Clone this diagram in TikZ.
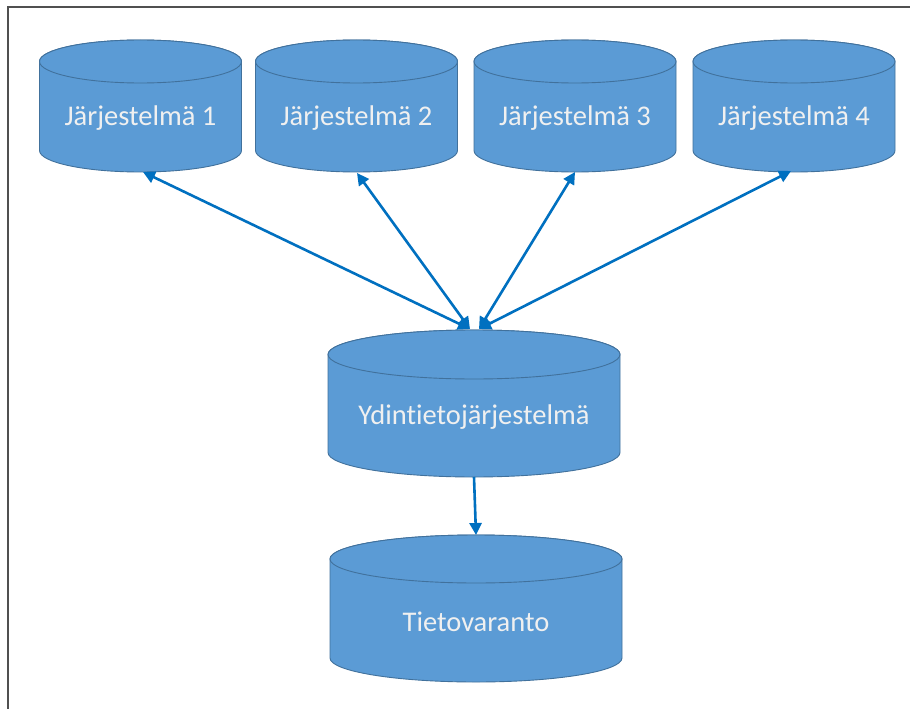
\documentclass[tikz,border=0pt]{standalone}
\usepackage{fontspec}
\setmainfont{Carlito}[Ligatures=NoCommon]
\usetikzlibrary{arrows.meta}

\definecolor{cylfill}{HTML}{5B9BD5}
\definecolor{cylline}{HTML}{41719C}
\definecolor{linkblue}{HTML}{0070C0}
\definecolor{framegray}{HTML}{505050}

% \dbcyl{name}{cx}{top-centre y}{bottom-centre y}{rx}{ry}{label}
% coordinates are in pixels, y growing downwards
\newcommand{\dbcyl}[7]{%
  \path[cylbody] (#2-#5,#3) -- (#2-#5,#4)
    arc[start angle=180,end angle=360,x radius=#5pt,y radius=#6pt]
    -- (#2+#5,#3)
    arc[start angle=0,end angle=180,x radius=#5pt,y radius=#6pt] -- cycle;
  \path[cylbody] (#2,#3) ellipse[x radius=#5pt,y radius=#6pt];
  \node[cyltext] (#1) at (#2,{(#3+#4)/2+0.55*#6}) {#7};
  \coordinate (#1-top) at (#2,#3-#6);
  \coordinate (#1-bot) at (#2,#4+#6);
}

\tikzset{
  cylbody/.style={fill=cylfill,draw=cylline,line width=0.9pt},
  cyltext/.style={text=white!94!black,font=\fontsize{28.5}{32}\selectfont,inner sep=0pt},
  link/.style={draw=linkblue,line width=2.6pt,
    {Triangle[length=12pt,width=12pt]}-{Triangle[length=12pt,width=12pt]}},
  onelink/.style={draw=linkblue,line width=2.6pt,-{Triangle[length=12pt,width=12pt]}},
  frameline/.style={draw=framegray,line width=2pt}
}

\begin{document}
\begin{tikzpicture}[x=1pt,y=-1pt]
  \useasboundingbox (0,0) rectangle (910,709);
  \fill[white] (0,0) rectangle (910,709);

  % page frame (only top and left edges are visible)
  \coordinate (fr-tl) at (8,7);
  \coordinate (fr-tr) at (910,7);
  \coordinate (fr-bl) at (8,709);
  \draw[frameline] (fr-tr) -- (fr-tl) -- (fr-bl);

  % source systems
  \dbcyl{j1}{140.5}{61.5}{150.5}{101}{21.5}{Järjestelmä 1}
  \dbcyl{j2}{356.5}{61.5}{150.5}{101}{21.5}{Järjestelmä 2}
  \dbcyl{j3}{575}{61.5}{150.5}{101}{21.5}{Järjestelmä 3}
  \dbcyl{j4}{794}{61.5}{150.5}{101}{21.5}{Järjestelmä 4}

  % master data system and data store
  \dbcyl{ydin}{474}{354.5}{452.5}{146}{24.5}{Ydintietojärjestelmä}
  \dbcyl{tieto}{476}{559}{658}{146}{24}{Tietovaranto}

  % end points of the connectors on the cylinder rims
  \coordinate (y-l) at (470,329);
  \coordinate (y-r) at (479,329);
  \coordinate (j1-e) at (143,172);
  \coordinate (j2-e) at (357,173);
  \coordinate (j3-e) at (575,172);
  \coordinate (j4-e) at (791,171);

  \draw[link] (j1-e) -- (y-l);
  \draw[link] (j2-e) -- (y-l);
  \draw[link] (j3-e) -- (y-r);
  \draw[link] (j4-e) -- (y-r);

  \draw[onelink] (ydin-bot) -- (tieto-top);
\end{tikzpicture}
\end{document}
